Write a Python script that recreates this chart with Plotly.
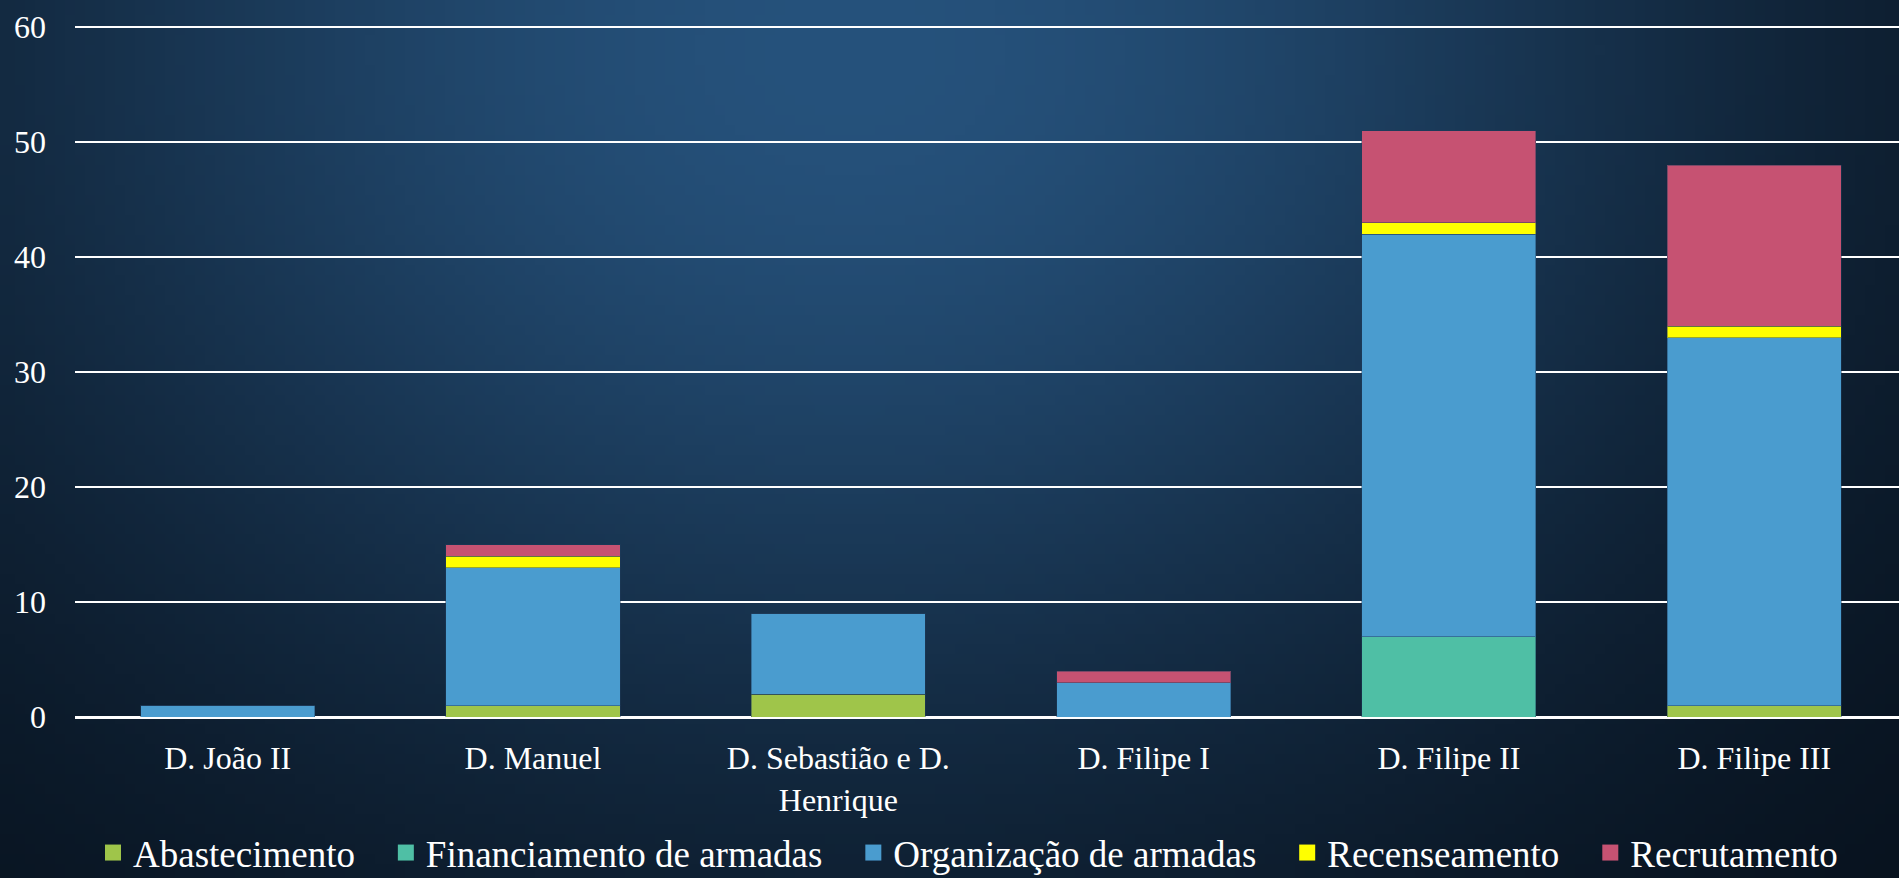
import base64, struct, zlib, math
import plotly.graph_objects as go

# ---------------- data ----------------
categories = ["D. João II", "D. Manuel", "D. Sebastião e D.<br>Henrique",
              "D. Filipe I", "D. Filipe II", "D. Filipe III"]
abastecimento = [0, 1, 2, 0, 0, 1]
financiamento = [0, 0, 0, 0, 7, 0]
organizacao = [1, 12, 7, 3, 35, 32]
recenseamento = [0, 1, 0, 0, 1, 1]
recrutamento = [0, 1, 0, 1, 8, 14]

series_names = ["Abastecimento", "Financiamento de armadas", "Organização de armadas",
                "Recenseamento", "Recrutamento"]
series_values = [abastecimento, financiamento, organizacao, recenseamento, recrutamento]
series_colors = ["#9FC54A", "#4FBFA5", "#4A9CCF", "#FFFF00", "#C65272"]
y_ticks = [0, 10, 20, 30, 40, 50, 60]

# ---------------- background gradient (generated PNG) ----------------
W, H = 1899, 878
IW, IH = 190, 88
dark = (6, 14, 24)
light = (38, 82, 124)
cx, cy, sx, sy = 850, 50, 906, 732
rows = []
for j in range(IH):
    py = (j + 0.5) / IH * H
    row = bytearray([0])
    for i in range(IW):
        px = (i + 0.5) / IW * W
        d2 = ((px - cx) / sx) ** 2 + ((py - cy) / sy) ** 2
        f = math.exp(-d2)
        row += bytes(int(dark[k] + (light[k] - dark[k]) * f) for k in range(3))
    rows.append(bytes(row))
raw = b"".join(rows)


def chunk(tag, data):
    c = struct.pack(">I", len(data)) + tag + data
    return c + struct.pack(">I", zlib.crc32(tag + data) & 0xFFFFFFFF)


png = b"\x89PNG\r\n\x1a\n" + chunk(b"IHDR", struct.pack(">IIBBBBB", IW, IH, 8, 2, 0, 0, 0)) \
    + chunk(b"IDAT", zlib.compress(raw, 9)) + chunk(b"IEND", b"")
bg_src = "data:image/png;base64," + base64.b64encode(png).decode()

# ---------------- figure ----------------
ML, MR, MT, MB = 75, 0, 26, 161
PW, PH = W - ML - MR, H - MT - MB

fig = go.Figure()
for name, vals, col in zip(series_names, series_values, series_colors):
    fig.add_trace(go.Bar(
        x=categories, y=vals, name=name, showlegend=False,
        marker=dict(color=col, line=dict(color="rgba(30,60,90,0.45)", width=1)),
    ))
# legend entries (larger square swatches)
for name, col in zip(series_names, series_colors):
    fig.add_trace(go.Scatter(
        x=[None], y=[None], mode="markers", name=name + "\u00a0\u00a0\u2009",
        marker=dict(symbol="square", size=19, color=col), showlegend=True,
    ))

font_family = "Liberation Serif, Times New Roman, serif"
fig.update_layout(
    width=W, height=H,
    margin=dict(l=ML, r=MR, t=MT, b=MB, autoexpand=False),
    barmode="stack", bargap=0.43,
    paper_bgcolor="#0b1a2b", plot_bgcolor="rgba(0,0,0,0)",
    font=dict(family=font_family, color="white"),
    images=[dict(source=bg_src, xref="paper", yref="paper",
                 x=-ML / PW, y=1 + MT / PH, sizex=W / PW, sizey=H / PH,
                 xanchor="left", yanchor="top", sizing="stretch", layer="below")],
    xaxis=dict(type="category", range=[-0.5, 5.474], showgrid=False, showline=False,
               zeroline=False, ticks="", tickfont=dict(size=32, color="white", family=font_family),
               ticklabelstandoff=19),
    yaxis=dict(range=[0, 60.1], tickvals=y_ticks, showgrid=True, gridcolor="white", gridwidth=2,
               zeroline=True, zerolinecolor="white", zerolinewidth=3, showline=False,
               ticks="", tickfont=dict(size=32, color="white", family=font_family),
               ticklabelstandoff=28),
    legend=dict(orientation="h", xref="paper", x=(93 - ML) / PW, xanchor="left",
                yref="paper", y=(MT + PH - 853) / PH, yanchor="middle",
                font=dict(size=37, color="white", family=font_family),
                bgcolor="rgba(0,0,0,0)", traceorder="normal"),
    showlegend=True,
)

fig.write_html("out.html")
